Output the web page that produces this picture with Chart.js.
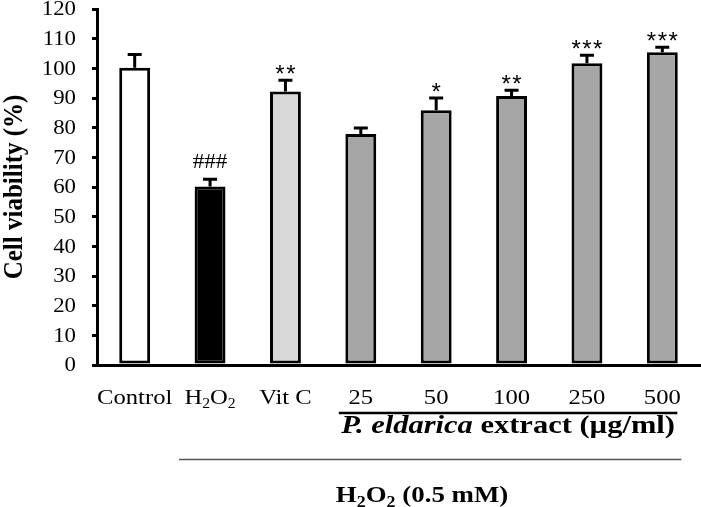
<!DOCTYPE html>
<html>
<head>
<meta charset="utf-8">
<script src="https://cdn.jsdelivr.net/npm/chart.js@4"></script>
<style>
  html, body { margin: 0; padding: 0; background: #fff; }
  #wrap { width: 701px; height: 507px; }
</style>
</head>
<body>
<div id="wrap"><canvas id="viabilityChart" width="701" height="507"></canvas></div>
<script>
// groups along the x axis
const categories = ['Control', 'H2O2', 'Vit C', '25', '50', '100', '250', '500'];
// mean cell viability (%) and upper SD
const viability = [100.2, 60.2, 92.2, 77.9, 85.9, 90.7, 101.7, 105.4];
const errors = [4.5, 2.4, 3.8, 2.0, 4.1, 1.9, 2.7, 1.7];
// significance marks above the bars
const marks = ['', '###', '**', '', '*', '**', '***', '***'];
const barColors = ['#ffffff', '#000000', '#d9d9d9', '#a6a6a6', '#a6a6a6', '#a6a6a6', '#a6a6a6', '#a6a6a6'];
const yTicks = [0, 10, 20, 30, 40, 50, 60, 70, 80, 90, 100, 110, 120];
const yTitle = 'Cell viability (%)';
const extractLabel = ['P. eldarica ', 'extract (\u00B5g/ml)'];
const treatmentLabel = 'H2O2 (0.5 mM)';

const SERIF = '"Liberation Serif", "Times New Roman", serif';
const SANS = '"Liberation Sans", Arial, sans-serif';

// text is a bit wider than its height in the original, so stretch it
function stretchText(ctx, text, x, y, sx, align) {
    ctx.save();
    ctx.translate(x, y);
    ctx.scale(sx, 1);
    ctx.textAlign = align;
    ctx.fillText(text, 0, 0);
    ctx.restore();
}

// draws H2O2 with subscript 2s, rest as plain text
function drawChem(ctx, text, x, y, size, weight, sx, align) {
    const runs = [];
    let rest = text;
    if (rest.startsWith('H2O2')) {
        runs.push({ t: 'H' }, { t: '2', sub: true }, { t: 'O' }, { t: '2', sub: true });
        rest = rest.slice(4);
    }
    if (rest) runs.push({ t: rest });
    let total = 0;
    runs.forEach(r => {
        ctx.font = weight + ' ' + (r.sub ? Math.round(size * 0.65) : size) + 'px ' + SERIF;
        r.w = ctx.measureText(r.t).width * sx;
        total += r.w;
    });
    let cx = align === 'center' ? x - total / 2 : x;
    ctx.textBaseline = 'alphabetic';
    runs.forEach(r => {
        ctx.font = weight + ' ' + (r.sub ? Math.round(size * 0.65) : size) + 'px ' + SERIF;
        stretchText(ctx, r.t, cx, r.sub ? y + size * 0.2 : y, sx, 'left');
        cx += r.w;
    });
}

const decorPlugin = {
    id: 'decor',
    afterDatasetsDraw(chart) {
        const ctx = chart.ctx;
        const ys = chart.scales.y;
        const meta = chart.getDatasetMeta(0);
        ctx.save();
        ctx.strokeStyle = '#000';
        ctx.fillStyle = '#000';
        ctx.lineWidth = 3;
        meta.data.forEach((bar, i) => {
            const yBar = ys.getPixelForValue(viability[i]);
            const yTop = ys.getPixelForValue(viability[i] + errors[i]);
            ctx.beginPath();
            ctx.moveTo(bar.x, yBar);
            ctx.lineTo(bar.x, yTop);
            ctx.moveTo(bar.x - 7, yTop);
            ctx.lineTo(bar.x + 7, yTop);
            ctx.stroke();
            if (marks[i]) {
                ctx.textBaseline = 'alphabetic';
                if (marks[i].startsWith('#')) {
                    ctx.font = '22px ' + SERIF;
                    stretchText(ctx, marks[i], bar.x, yTop - 11, 1.05, 'center');
                } else {
                    ctx.font = '24px ' + SANS;
                    ctx.letterSpacing = '1.5px';
                    stretchText(ctx, marks[i], bar.x + 0.75, yTop + 2, 1.0, 'center');
                    ctx.letterSpacing = '0px';
                }
            }
        });
        ctx.restore();
    },
    afterDraw(chart) {
        const ctx = chart.ctx;
        const xs = chart.scales.x;
        const ys = chart.scales.y;
        const area = chart.chartArea;
        const bottom = area.bottom;
        ctx.save();
        ctx.fillStyle = '#000';

        // y tick labels
        ctx.font = '20px ' + SERIF;
        ctx.textBaseline = 'middle';
        yTicks.forEach(v => {
            stretchText(ctx, String(v), area.left - 21, ys.getPixelForValue(v) + 1, 1.14, 'right');
        });

        // y axis title
        ctx.save();
        ctx.translate(15, (area.top + area.bottom) / 2);
        ctx.rotate(-Math.PI / 2);
        ctx.scale(1, 1.12);
        ctx.font = 'bold 25px ' + SERIF;
        ctx.textAlign = 'center';
        ctx.textBaseline = 'middle';
        ctx.fillText(yTitle, 0, 0);
        ctx.restore();

        // category labels
        categories.forEach((c, i) => {
            drawChem(ctx, c, xs.getPixelForValue(i), bottom + 39, 22, 'normal', 1.12, 'center');
        });

        // bracket under the extract doses
        const x25 = xs.getPixelForValue(3);
        const x500 = xs.getPixelForValue(7);
        ctx.strokeStyle = '#000';
        ctx.lineWidth = 2.5;
        ctx.beginPath();
        ctx.moveTo(x25 - 22, bottom + 48);
        ctx.lineTo(x500 + 15, bottom + 48);
        ctx.stroke();

        // extract label: italic part + bold part
        const size = 25, sx = 1.22;
        ctx.font = 'italic bold ' + size + 'px ' + SERIF;
        const w1 = ctx.measureText(extractLabel[0]).width * sx;
        ctx.font = 'bold ' + size + 'px ' + SERIF;
        const w2 = ctx.measureText(extractLabel[1]).width * sx;
        const startX = (x25 - 22 + x500 + 15) / 2 - (w1 + w2) / 2;
        ctx.textBaseline = 'alphabetic';
        ctx.font = 'italic bold ' + size + 'px ' + SERIF;
        stretchText(ctx, extractLabel[0], startX, bottom + 68, sx, 'left');
        ctx.font = 'bold ' + size + 'px ' + SERIF;
        stretchText(ctx, extractLabel[1], startX + w1, bottom + 68, sx, 'left');

        // thin line for the H2O2 treatment
        const xH = xs.getPixelForValue(1);
        ctx.strokeStyle = '#555';
        ctx.lineWidth = 1.5;
        ctx.beginPath();
        ctx.moveTo(xH - 31, bottom + 94.5);
        ctx.lineTo(x500 + 19, bottom + 94.5);
        ctx.stroke();

        drawChem(ctx, treatmentLabel, x25 - 25, bottom + 137, 24, 'bold', 1.12, 'left');
        ctx.restore();
    }
};

new Chart(document.getElementById('viabilityChart').getContext('2d'), {
    type: 'bar',
    data: {
        labels: categories,
        datasets: [{
            data: viability,
            backgroundColor: barColors,
            borderColor: '#000',
            borderWidth: 3,
            borderSkipped: false,
            barPercentage: 0.41,
            categoryPercentage: 1.0
        }]
    },
    options: {
        responsive: false,
        animation: false,
        layout: { padding: { top: 9, right: 1, left: 0, bottom: 0 } },
        plugins: {
            legend: { display: false },
            tooltip: { enabled: false }
        },
        scales: {
            x: {
                grid: { display: false },
                border: { display: true, color: '#000', width: 3 },
                ticks: { display: false },
                afterFit(scale) { scale.height = 142; }
            },
            y: {
                min: 0,
                max: 120,
                afterBuildTicks(scale) { scale.ticks = yTicks.map(v => ({ value: v })); },
                grid: { drawOnChartArea: false, drawTicks: true, tickLength: 5, color: '#000', lineWidth: 3 },
                border: { display: true, color: '#000', width: 3 },
                ticks: { display: false },
                afterFit(scale) {
                    scale.width = 97;
                    scale.paddingTop = 0;
                    scale.paddingBottom = 0;
                }
            }
        }
    },
    plugins: [decorPlugin]
});
</script>
</body>
</html>
